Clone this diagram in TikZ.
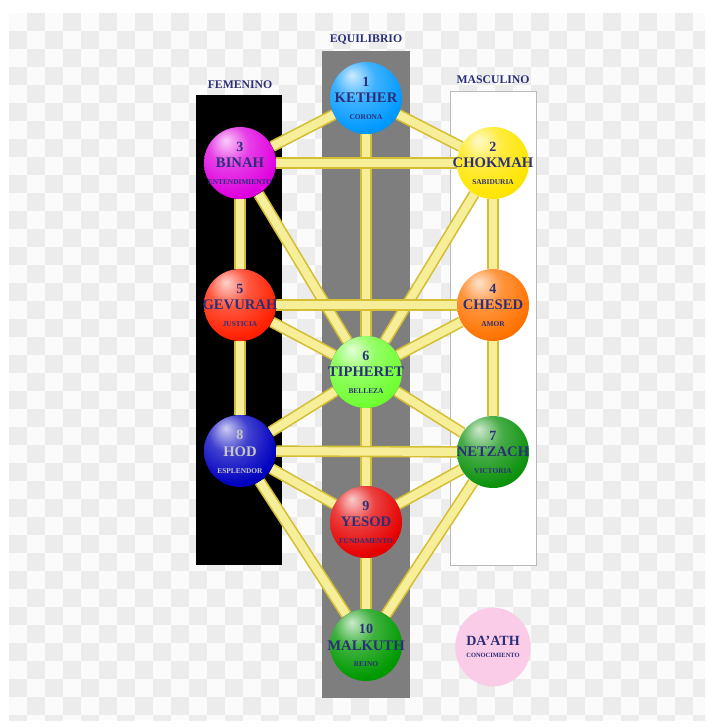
\documentclass[tikz,border=0pt]{standalone}
\usepackage{fontspec}
\setmainfont{Liberation Serif}
\usetikzlibrary{shapes.geometric}
\definecolor{ink}{HTML}{2B2F78}
\definecolor{barfill}{HTML}{F7EE9A}
\definecolor{baredge}{HTML}{D4BE34}
\definecolor{pillar}{HTML}{7E7E7E}
\definecolor{checker}{HTML}{ECECEC}
\pgfdeclarelayer{bg}
\pgfdeclarelayer{bars}
\pgfsetlayers{bg,bars,main}
\makeatletter
\pgfdeclareradialshading[tikz@ball]{gem}{\pgfqpoint{-10bp}{16bp}}{%
  color(0bp)=(tikz@ball!20!white); color(14bp)=(tikz@ball!75!white);
  color(32bp)=(tikz@ball); color(50bp)=(tikz@ball!78!black);
  color(70bp)=(tikz@ball!65!black)}
\makeatother
\tikzset{
  sphere/.style={circle, inner sep=0pt, minimum size=2.16cm, ball color=#1,
    shading=gem, text=ink, font=\bfseries},
  bar/.style={draw=baredge, line width=1.4pt, double=barfill, double distance=7pt},
  pillarlabel/.style={text=ink, font=\bfseries\fontsize{10}{12}\selectfont}
}
\newcommand{\sefira}[3]{\makebox[0pt]{\smash{\raisebox{-2.9pt}{\fontsize{6}{6}\selectfont
  \begin{tabular}{@{}c@{}}
  {\fontsize{12}{14}\selectfont #1}\\[4pt]
  {\fontsize{12.5}{14}\selectfont #2}\\[8.5pt]
  {\fontsize{6.3}{7}\selectfont #3}
  \end{tabular}}}}}
\begin{document}
\begin{tikzpicture}[x=0.03cm,y=-0.03cm]
\useasboundingbox (0,0) rectangle (711,727);
% checkered background
\begin{pgfonlayer}{bg}
\fill[white] (0,0) rectangle (711,727);
\begin{scope}
\clip (9,13) rectangle (705,720);
\fill[gray!3] (9,13) rectangle (705,720);
\foreach \i in {0,...,38}
  \foreach \j in {0,...,39}{
    \pgfmathtruncatemacro\odd{mod(\i+\j,2)}
    \ifnum\odd=1 \fill[checker] (9+18*\i,13+18*\j) rectangle ++(18,18); \fi
  }
\end{scope}
% the three pillars
\fill[black] (196,95) rectangle (282,565);
\fill[pillar] (322,51) rectangle (410,698);
\draw[gray!55,fill=white] (450,91) rectangle (536,565);
\end{pgfonlayer}
\node[pillarlabel] (fem) at (240,85) {FEMENINO};
\node[pillarlabel] (equi) at (366,40) {EQUILIBRIO};
\node[pillarlabel] (masc) at (493,80) {MASCULINO};
% the sefirot
\node[sphere=cyan!60!blue] (kether) at (366,98) {\sefira{1}{KETHER}{CORONA}};
\node[sphere=yellow!80!orange] (chokmah) at (493,163) {\sefira{2}{CHOKMAH}{SABIDURIA}};
\node[sphere=magenta!75!violet] (binah) at (240,163) {\sefira{3}{BINAH}{ENTENDIMIENTO}};
\node[sphere=orange!90!red] (chesed) at (493,305) {\sefira{4}{CHESED}{AMOR}};
\node[sphere=red!75!orange] (gevurah) at (240,305) {\sefira{5}{GEVURAH}{JUSTICIA}};
\node[sphere=green!60!lime!80!white] (tiphereth) at (366,372) {\sefira{6}{TIPHERET}{BELLEZA}};
\node[sphere=green!55!black!95!white] (netzach) at (493,452) {\sefira{7}{NETZACH}{VICTORIA}};
\node[sphere=blue!75!black, text=gray!45] (hod) at (240,451) {\sefira{8}{HOD}{ESPLENDOR}};
\node[sphere=red!90!black] (yesod) at (366,522) {\sefira{9}{YESOD}{FUNDAMENTO}};
\node[sphere=green!60!black] (malkuth) at (366,645) {\sefira{10}{MALKUTH}{REINO}};
\node[ellipse, inner sep=0pt, minimum width=2.2cm, minimum height=2.36cm,
  fill=magenta!20, text=ink, font=\bfseries, align=center] (daath) at (493,647)
  {{\fontsize{12}{14}\selectfont DA'ATH}\\[-2pt]{\fontsize{5.5}{7}\selectfont CONOCIMIENTO}};
% the paths
\begin{pgfonlayer}{bars}
\foreach \a/\b in {kether/chokmah, kether/binah, kether/tiphereth, chokmah/binah,
    chokmah/chesed, chokmah/tiphereth, binah/gevurah, binah/tiphereth,
    chesed/gevurah, chesed/tiphereth, chesed/netzach, gevurah/tiphereth,
    gevurah/hod, tiphereth/netzach, tiphereth/hod, tiphereth/yesod,
    netzach/hod, netzach/yesod, netzach/malkuth, hod/yesod, hod/malkuth,
    yesod/malkuth}
  \draw[bar] (\a) -- (\b);
\end{pgfonlayer}
\end{tikzpicture}
\end{document}
